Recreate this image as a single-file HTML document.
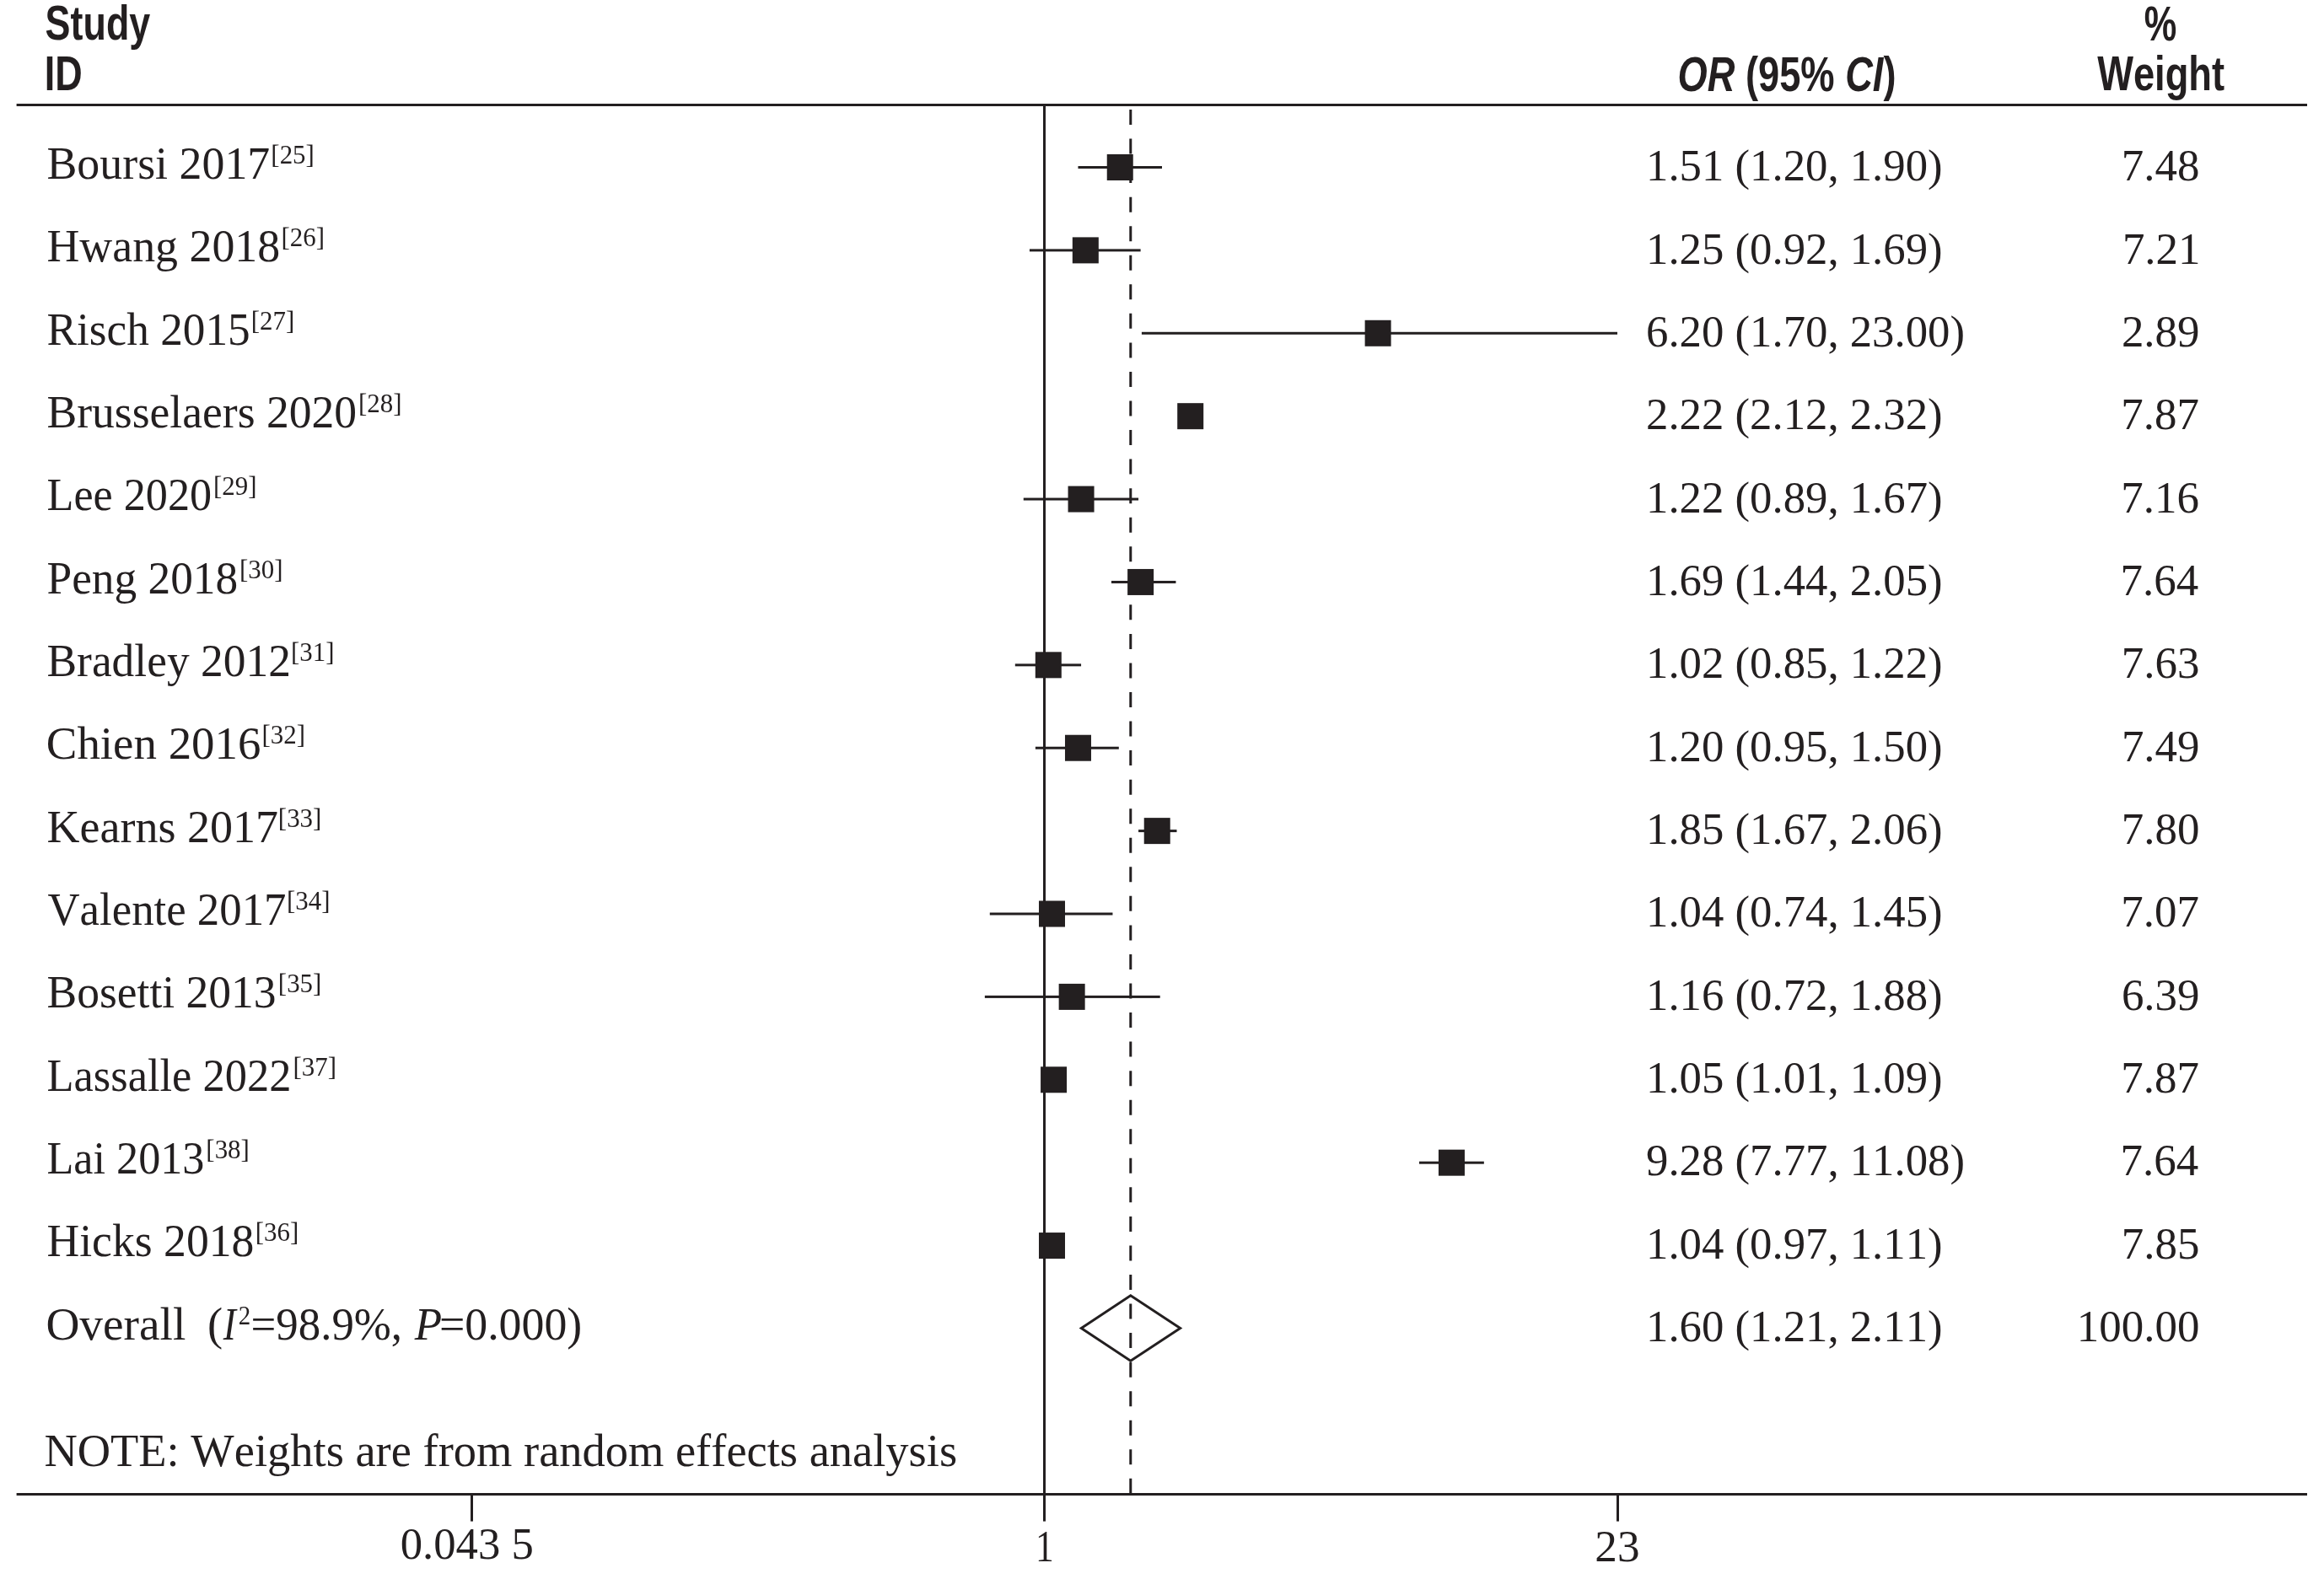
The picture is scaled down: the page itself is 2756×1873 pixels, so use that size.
<!DOCTYPE html><html><head><meta charset="utf-8"><style>html,body{margin:0;padding:0;background:#fff;overflow:hidden}svg{display:block;will-change:transform}text{font-kerning:none;font-variant-ligatures:none}</style></head><body>
<svg width="2756" height="1873" viewBox="0 0 2756 1873">
<rect width="2756" height="1873" fill="#fff"/>
<text transform="translate(53.61,47.10) scale(0.7736,1)" font-family="Liberation Sans, sans-serif" font-size="58" font-weight="bold" fill="#231f20">Study</text>
<text transform="translate(52.79,107.10) scale(0.7750,1)" font-family="Liberation Sans, sans-serif" font-size="58" font-weight="bold" fill="#231f20">ID</text>
<text transform="translate(2542.72,47.50) scale(0.7469,1)" font-family="Liberation Sans, sans-serif" font-size="58" font-weight="bold" fill="#231f20">%</text>
<text transform="translate(2487.16,107.10) scale(0.7812,1)" font-family="Liberation Sans, sans-serif" font-size="58" font-weight="bold" fill="#231f20">Weight</text>
<text transform="translate(1989.59,107.50) scale(0.7800,1)" font-family="Liberation Sans, sans-serif" font-size="58" font-weight="bold" font-style="italic" fill="#231f20">OR<tspan font-style="normal"> (95% </tspan>CI<tspan font-style="normal">)</tspan></text>
<rect x="19.6" y="123" width="2716.4" height="3" fill="#231f20"/>
<rect x="19.6" y="1771" width="2716.4" height="3" fill="#231f20"/>
<rect x="1237" y="123" width="3" height="1681.6" fill="#231f20"/>
<rect x="558.0" y="1772" width="3" height="32.6" fill="#231f20"/>
<rect x="1917.0" y="1772" width="3" height="32.6" fill="#231f20"/>
<line x1="1340.78" y1="130" x2="1340.78" y2="1772" stroke="#231f20" stroke-width="3" stroke-dasharray="18 16.55"/>
<text transform="translate(55.45,212.00) scale(0.9867,1)" font-family="Liberation Serif, serif" font-size="54.6" fill="#231f20">Boursi 2017</text>
<text transform="translate(321.36,194.00) scale(0.9980,1)" font-family="Liberation Serif, serif" font-size="31" fill="#231f20">[25]</text>
<rect x="1278.48" y="197.00" width="99.51" height="3" fill="#231f20"/>
<rect x="1312.74" y="183.00" width="31.0" height="31.0" fill="#231f20"/>
<text transform="translate(55.45,310.34) scale(0.9867,1)" font-family="Liberation Serif, serif" font-size="54.6" fill="#231f20">Hwang 2018</text>
<text transform="translate(333.46,292.34) scale(0.9980,1)" font-family="Liberation Serif, serif" font-size="31" fill="#231f20">[26]</text>
<rect x="1220.94" y="295.39" width="131.69" height="3" fill="#231f20"/>
<rect x="1271.82" y="281.39" width="31.0" height="31.0" fill="#231f20"/>
<text transform="translate(55.47,408.68) scale(0.9757,1)" font-family="Liberation Serif, serif" font-size="54.6" fill="#231f20">Risch 2015</text>
<text transform="translate(297.76,390.68) scale(0.9980,1)" font-family="Liberation Serif, serif" font-size="31" fill="#231f20">[27]</text>
<rect x="1353.91" y="393.78" width="564.09" height="3" fill="#231f20"/>
<rect x="1618.61" y="379.78" width="31.0" height="31.0" fill="#231f20"/>
<text transform="translate(55.46,507.02) scale(0.9819,1)" font-family="Liberation Serif, serif" font-size="54.6" fill="#231f20">Brusselaers 2020</text>
<text transform="translate(425.06,489.02) scale(0.9980,1)" font-family="Liberation Serif, serif" font-size="31" fill="#231f20">[28]</text>
<rect x="1401.72" y="492.17" width="19.52" height="3" fill="#231f20"/>
<rect x="1396.20" y="478.17" width="31.0" height="31.0" fill="#231f20"/>
<text transform="translate(55.50,605.36) scale(0.9561,1)" font-family="Liberation Serif, serif" font-size="54.6" fill="#231f20">Lee 2020</text>
<text transform="translate(253.06,587.36) scale(0.9980,1)" font-family="Liberation Serif, serif" font-size="31" fill="#231f20">[29]</text>
<rect x="1213.76" y="590.56" width="136.29" height="3" fill="#231f20"/>
<rect x="1266.56" y="576.56" width="31.0" height="31.0" fill="#231f20"/>
<text transform="translate(55.46,703.70) scale(0.9772,1)" font-family="Liberation Serif, serif" font-size="54.6" fill="#231f20">Peng 2018</text>
<text transform="translate(284.06,685.70) scale(0.9980,1)" font-family="Liberation Serif, serif" font-size="31" fill="#231f20">[30]</text>
<rect x="1317.96" y="688.95" width="76.49" height="3" fill="#231f20"/>
<rect x="1337.13" y="674.95" width="31.0" height="31.0" fill="#231f20"/>
<text transform="translate(55.46,802.04) scale(0.9790,1)" font-family="Liberation Serif, serif" font-size="54.6" fill="#231f20">Bradley 2012</text>
<text transform="translate(345.06,784.04) scale(0.9980,1)" font-family="Liberation Serif, serif" font-size="31" fill="#231f20">[31]</text>
<rect x="1203.81" y="787.34" width="78.26" height="3" fill="#231f20"/>
<rect x="1227.79" y="773.34" width="31.0" height="31.0" fill="#231f20"/>
<text transform="translate(54.75,900.38) scale(1.0060,1)" font-family="Liberation Serif, serif" font-size="54.6" fill="#231f20">Chien 2016</text>
<text transform="translate(310.46,882.38) scale(0.9980,1)" font-family="Liberation Serif, serif" font-size="31" fill="#231f20">[32]</text>
<rect x="1227.89" y="885.73" width="98.91" height="3" fill="#231f20"/>
<rect x="1262.98" y="871.73" width="31.0" height="31.0" fill="#231f20"/>
<text transform="translate(55.44,998.72) scale(0.9897,1)" font-family="Liberation Serif, serif" font-size="54.6" fill="#231f20">Kearns 2017</text>
<text transform="translate(329.86,980.72) scale(0.9980,1)" font-family="Liberation Serif, serif" font-size="31" fill="#231f20">[33]</text>
<rect x="1350.05" y="984.12" width="45.45" height="3" fill="#231f20"/>
<rect x="1356.72" y="970.12" width="31.0" height="31.0" fill="#231f20"/>
<text transform="translate(56.41,1097.06) scale(0.9675,1)" font-family="Liberation Serif, serif" font-size="54.6" fill="#231f20">Valente 2017</text>
<text transform="translate(340.06,1079.06) scale(0.9980,1)" font-family="Liberation Serif, serif" font-size="31" fill="#231f20">[34]</text>
<rect x="1173.79" y="1082.51" width="145.67" height="3" fill="#231f20"/>
<rect x="1231.99" y="1068.51" width="31.0" height="31.0" fill="#231f20"/>
<text transform="translate(55.46,1195.40) scale(0.9805,1)" font-family="Liberation Serif, serif" font-size="54.6" fill="#231f20">Bosetti 2013</text>
<text transform="translate(329.86,1177.40) scale(0.9980,1)" font-family="Liberation Serif, serif" font-size="31" fill="#231f20">[35]</text>
<rect x="1167.86" y="1180.90" width="207.84" height="3" fill="#231f20"/>
<rect x="1255.64" y="1166.90" width="31.0" height="31.0" fill="#231f20"/>
<text transform="translate(55.49,1293.74) scale(0.9608,1)" font-family="Liberation Serif, serif" font-size="54.6" fill="#231f20">Lassalle 2022</text>
<text transform="translate(347.46,1275.74) scale(0.9980,1)" font-family="Liberation Serif, serif" font-size="31" fill="#231f20">[37]</text>
<rect x="1241.15" y="1279.29" width="16.51" height="3" fill="#231f20"/>
<rect x="1234.07" y="1265.29" width="31.0" height="31.0" fill="#231f20"/>
<text transform="translate(55.50,1392.08) scale(0.9557,1)" font-family="Liberation Serif, serif" font-size="54.6" fill="#231f20">Lai 2013</text>
<text transform="translate(244.36,1374.08) scale(0.9980,1)" font-family="Liberation Serif, serif" font-size="31" fill="#231f20">[38]</text>
<rect x="1682.99" y="1377.68" width="76.85" height="3" fill="#231f20"/>
<rect x="1705.95" y="1363.68" width="31.0" height="31.0" fill="#231f20"/>
<text transform="translate(55.45,1490.42) scale(0.9830,1)" font-family="Liberation Serif, serif" font-size="54.6" fill="#231f20">Hicks 2018</text>
<text transform="translate(302.66,1472.42) scale(0.9980,1)" font-family="Liberation Serif, serif" font-size="31" fill="#231f20">[36]</text>
<rect x="1232.40" y="1476.07" width="29.20" height="3" fill="#231f20"/>
<rect x="1231.99" y="1462.07" width="31.0" height="31.0" fill="#231f20"/>
<text transform="translate(1952.06,214.30) scale(0.9953,1)" font-family="Liberation Serif, serif" font-size="53" fill="#231f20">1.51 (1.20, 1.90)</text>
<text transform="translate(2515.73,214.30) scale(0.99,1)" font-family="Liberation Serif, serif" font-size="53.5" fill="#231f20">7.48</text>
<text transform="translate(1952.06,312.64) scale(0.9953,1)" font-family="Liberation Serif, serif" font-size="53" fill="#231f20">1.25 (0.92, 1.69)</text>
<text transform="translate(2516.89,312.64) scale(0.99,1)" font-family="Liberation Serif, serif" font-size="53.5" fill="#231f20">7.21</text>
<text transform="translate(1952.06,410.98) scale(0.9953,1)" font-family="Liberation Serif, serif" font-size="53" fill="#231f20">6.20 (1.70, 23.00)</text>
<text transform="translate(2515.88,410.98) scale(0.99,1)" font-family="Liberation Serif, serif" font-size="53.5" fill="#231f20">2.89</text>
<text transform="translate(1952.06,509.32) scale(0.9953,1)" font-family="Liberation Serif, serif" font-size="53" fill="#231f20">2.22 (2.12, 2.32)</text>
<text transform="translate(2515.24,509.32) scale(0.99,1)" font-family="Liberation Serif, serif" font-size="53.5" fill="#231f20">7.87</text>
<text transform="translate(1952.06,607.66) scale(0.9953,1)" font-family="Liberation Serif, serif" font-size="53" fill="#231f20">1.22 (0.89, 1.67)</text>
<text transform="translate(2515.29,607.66) scale(0.99,1)" font-family="Liberation Serif, serif" font-size="53.5" fill="#231f20">7.16</text>
<text transform="translate(1952.06,706.00) scale(0.9953,1)" font-family="Liberation Serif, serif" font-size="53" fill="#231f20">1.69 (1.44, 2.05)</text>
<text transform="translate(2514.54,706.00) scale(0.99,1)" font-family="Liberation Serif, serif" font-size="53.5" fill="#231f20">7.64</text>
<text transform="translate(1952.06,804.34) scale(0.9953,1)" font-family="Liberation Serif, serif" font-size="53" fill="#231f20">1.02 (0.85, 1.22)</text>
<text transform="translate(2515.78,804.34) scale(0.99,1)" font-family="Liberation Serif, serif" font-size="53.5" fill="#231f20">7.63</text>
<text transform="translate(1952.06,902.68) scale(0.9953,1)" font-family="Liberation Serif, serif" font-size="53" fill="#231f20">1.20 (0.95, 1.50)</text>
<text transform="translate(2515.88,902.68) scale(0.99,1)" font-family="Liberation Serif, serif" font-size="53.5" fill="#231f20">7.49</text>
<text transform="translate(1952.06,1001.02) scale(0.9953,1)" font-family="Liberation Serif, serif" font-size="53" fill="#231f20">1.85 (1.67, 2.06)</text>
<text transform="translate(2515.73,1001.02) scale(0.99,1)" font-family="Liberation Serif, serif" font-size="53.5" fill="#231f20">7.80</text>
<text transform="translate(1952.06,1099.36) scale(0.9953,1)" font-family="Liberation Serif, serif" font-size="53" fill="#231f20">1.04 (0.74, 1.45)</text>
<text transform="translate(2515.24,1099.36) scale(0.99,1)" font-family="Liberation Serif, serif" font-size="53.5" fill="#231f20">7.07</text>
<text transform="translate(1952.06,1197.70) scale(0.9953,1)" font-family="Liberation Serif, serif" font-size="53" fill="#231f20">1.16 (0.72, 1.88)</text>
<text transform="translate(2515.88,1197.70) scale(0.99,1)" font-family="Liberation Serif, serif" font-size="53.5" fill="#231f20">6.39</text>
<text transform="translate(1952.06,1296.04) scale(0.9953,1)" font-family="Liberation Serif, serif" font-size="53" fill="#231f20">1.05 (1.01, 1.09)</text>
<text transform="translate(2515.24,1296.04) scale(0.99,1)" font-family="Liberation Serif, serif" font-size="53.5" fill="#231f20">7.87</text>
<text transform="translate(1952.06,1394.38) scale(0.9953,1)" font-family="Liberation Serif, serif" font-size="53" fill="#231f20">9.28 (7.77, 11.08)</text>
<text transform="translate(2514.54,1394.38) scale(0.99,1)" font-family="Liberation Serif, serif" font-size="53.5" fill="#231f20">7.64</text>
<text transform="translate(1952.06,1492.72) scale(0.9953,1)" font-family="Liberation Serif, serif" font-size="53" fill="#231f20">1.04 (0.97, 1.11)</text>
<text transform="translate(2515.78,1492.72) scale(0.99,1)" font-family="Liberation Serif, serif" font-size="53.5" fill="#231f20">7.85</text>
<text transform="translate(1952.06,1591.06) scale(0.9953,1)" font-family="Liberation Serif, serif" font-size="53" fill="#231f20">1.60 (1.21, 2.11)</text>
<text transform="translate(2462.76,1591.06) scale(0.99,1)" font-family="Liberation Serif, serif" font-size="53.5" fill="#231f20">100.00</text>
<text transform="translate(54.43,1588.76) scale(1.0132,1)" font-family="Liberation Serif, serif" font-size="54.6" fill="#231f20">Overall</text>
<text transform="translate(245.91,1588.76) scale(0.9980,1)" font-family="Liberation Serif, serif" font-size="54.6" fill="#231f20">(</text>
<text transform="translate(264.78,1588.76) scale(0.8281,1)" font-family="Liberation Serif, serif" font-size="54.6" font-style="italic" fill="#231f20">I</text>
<text transform="translate(282.73,1570.76) scale(0.9334,1)" font-family="Liberation Serif, serif" font-size="31" fill="#231f20">2</text>
<text transform="translate(297.57,1588.76) scale(0.9676,1)" font-family="Liberation Serif, serif" font-size="54.6" fill="#231f20">=98.9%,</text>
<text transform="translate(491.68,1588.76) scale(0.9703,1)" font-family="Liberation Serif, serif" font-size="54.6" font-style="italic" fill="#231f20">P</text>
<text transform="translate(520.92,1588.76) scale(0.9856,1)" font-family="Liberation Serif, serif" font-size="54.6" fill="#231f20">=0.000)</text>
<polygon points="1282.3,1575.5 1340.78,1536.8 1399.6,1575.5 1340.78,1614.3" fill="none" stroke="#231f20" stroke-width="3" stroke-linejoin="miter"/>
<text transform="translate(52.43,1738.80) scale(0.9978,1)" font-family="Liberation Serif, serif" font-size="54.6" fill="#231f20">NOTE: Weights are from random effects analysis</text>
<text transform="translate(474.69,1849.30) scale(1.0042,1)" font-family="Liberation Serif, serif" font-size="52.5" fill="#231f20" xml:space="preserve">0.043 5</text>
<text transform="translate(1227.88,1851.70) scale(0.8278,1)" font-family="Liberation Serif, serif" font-size="52.5" fill="#231f20">1</text>
<text transform="translate(1891.36,1851.50) scale(1.0137,1)" font-family="Liberation Serif, serif" font-size="52.5" fill="#231f20">23</text>
</svg></body></html>
